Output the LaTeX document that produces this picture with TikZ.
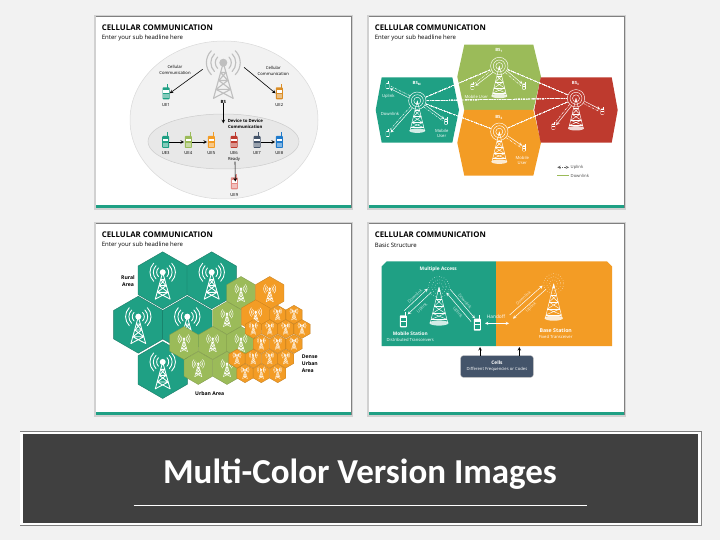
\documentclass[tikz,border=0pt]{standalone}
\usepackage{fontspec}
\setmainfont{Open Sans}
\newfontfamily\bannerfont{Carlito}
\usetikzlibrary{calc,positioning}
\definecolor{bgpage}{HTML}{F2F2F2}
\definecolor{tealc}{HTML}{1FA084}
\definecolor{greenc}{HTML}{9BBB59}
\definecolor{orangec}{HTML}{F39C25}
\definecolor{redc}{HTML}{BE3A2E}
\definecolor{slatec}{HTML}{44546A}
\definecolor{bluec}{HTML}{1F7ACB}
\definecolor{amberc}{HTML}{DB8E26}
\definecolor{pinkc}{HTML}{E58B85}
\definecolor{mastgray}{HTML}{BFBFBF}
\tikzset{
  lab/.style={font=\fontsize{4.2}{5.2}\selectfont,align=center,inner sep=0pt},
  labb/.style={lab,font=\fontsize{4.3}{5.3}\selectfont\bfseries},
  arealab/.style={lab,font=\fontsize{5.1}{7.3}\selectfont\bfseries},
  wlab/.style={lab,text=white},
  wlabb/.style={labb,text=white},
  fadelab/.style={lab,text=white,opacity=.75},
  link/.style={->,>=stealth,line width=0.6pt,black},
  downwire/.style={line width=0.5pt,white},
  upwire/.style={line width=0.45pt,white,dash pattern=on 2.2pt off 1pt on 0.6pt off 1pt},
  ringw/.style={line width=0.45pt,white},
  ringd/.style={line width=0.45pt,white,dotted},
  phone/.style={rectangle,rounded corners=0.8pt,inner sep=0pt,minimum width=7pt,minimum height=12pt,transform shape}
}
% slide frame: name, left, top, subtitle
\newcommand{\slideframe}[4]{
  \fill[black!18] (#2-2,#3-2) rectangle (#2+257,#3+193);
  \draw[black!50,line width=0.8pt] (#2-0.5,#3-0.5) -- (#2+255.5,#3-0.5) -- (#2+255.5,#3+191);
  \fill[white] (#2,#3) rectangle (#2+255,#3+191);
  \fill[tealc] (#2,#3+188) rectangle (#2+255,#3+191);
  \node[anchor=west,inner sep=0pt,font=\fontsize{7.8}{9}\selectfont\bfseries] (title#1) at (#2+5.7,#3+10.3) {CELLULAR COMMUNICATION};
  \node[anchor=west,inner sep=0pt,font=\fontsize{6}{7}\selectfont] (sub#1) at (#2+5.7,#3+21.3) {#4};
}
% lattice mast with side arcs: x, y, scale, colour, offset
\newcommand{\mast}[5]{
  \begin{scope}[shift={(#1,#2)},scale=#3,shift={(0,#5)},draw=#4,line width=#3*1.2pt+0.06pt,line cap=round]
    \foreach \rad in {9,14,19} {
      \draw (-45:\rad) arc (-45:45:\rad);
      \draw (135:\rad) arc (135:225:\rad);
    }
    \fill[#4] (0,0) circle (4.5);
    \draw (0,0) -- (-11,40) (0,0) -- (11,40);
    \draw (-3,11) -- (3,11) (-3,11) -- (5,20) (3,11) -- (-5,20) (-5,20) -- (5,20);
    \draw (-5,20) -- (8.2,30) (5,20) -- (-8.2,30) (-8.2,30) -- (8.2,30) (-8.2,30) -- (11,40) (8.2,30) -- (-11,40);
  \end{scope}
}
% base station with rings: name, x, y, scale, ring style
\newcommand{\station}[5]{
  \coordinate (#1) at (#2,#3);
  \begin{scope}[shift={(#2,#3)},scale=#4,draw=white,line width=0.45pt]
    \foreach \rad in {3.5,6,8.7} \draw[#5] (0,0) circle (\rad);
    \fill[white] (0,0) -- (-1,4) -- (1,4) -- cycle;
    \fill[white,opacity=.8] (0,30) ellipse (8 and 2.2);
    \draw (0,0) -- (-7.3,30) (0,0) -- (7.3,30);
    \foreach \hh/\ww in {10/2.4,16/3.9,22/5.4,27/6.6} \draw (-\ww,\hh) -- (\ww,\hh);
    \draw (-2.4,10) -- (3.9,16) (2.4,10) -- (-3.9,16) (-3.9,16) -- (5.4,22) (3.9,16) -- (-5.4,22) (-5.4,22) -- (6.6,27) (5.4,22) -- (-6.6,27);
  \end{scope}
}
% handset: name, x, y, scale, body, screen, keys
\newcommand{\handset}[7]{
  \begin{scope}[shift={(#2,#3)},scale=#4]
    \draw[#5,line width=#4*0.7pt] (1.8,-5) -- (1.8,-9.5);
    \node[phone,fill=#5] (#1) at (0,0) {};
    \fill[#6] (-2.6,-3.2) rectangle (2.6,-0.6);
    \fill[#7] (-2.6,0.6) rectangle (2.6,4.6);
  \end{scope}
}
% up and down wires between two points
\newcommand{\wirepair}[2]{
  \draw[downwire,shorten <=9pt,shorten >=3pt,->,>=stealth] ($(#1)!1.2pt!90:(#2)$) -- ($(#2)!1.2pt!-90:(#1)$);
  \draw[upwire,shorten <=9pt,shorten >=3pt] ($(#1)!1.2pt!-90:(#2)$) -- ($(#2)!1.2pt!90:(#1)$);
}
% pointy-top hexagon: x, y, radius, style
\newcommand{\hexcell}[4]{
  \filldraw[#4] ($(#1,#2)+(30:#3)$) -- ($(#1,#2)+(90:#3)$) -- ($(#1,#2)+(150:#3)$) -- ($(#1,#2)+(210:#3)$) -- ($(#1,#2)+(270:#3)$) -- ($(#1,#2)+(330:#3)$) -- cycle;
}
\begin{document}
\begin{tikzpicture}[x=1pt,y=-1pt]
\useasboundingbox (0,0) rectangle (720,540);
\fill[bgpage] (0,0) rectangle (720,540);

% Slide 1
\slideframe{a}{96}{17}{Enter your sub headline here}
\draw[black!15,fill=bgpage,line width=0.5pt] (224,120) ellipse (94 and 79);
\draw[black!20,fill=black!9,line width=0.5pt] (223.5,141.5) ellipse (75.5 and 27.5);
\coordinate (bs) at (223.3,62.7);
\mast{223.3}{62.7}{0.89}{mastgray}{0}
\node[labb] (bslab) at (223.3,101.7) {BS};
\handset{ue1}{166}{93.3}{1}{tealc}{white}{tealc!55}
\handset{ue2}{279.3}{93.3}{1}{amberc}{white}{amberc!55}
\handset{ue3}{165.7}{142}{1}{tealc}{white}{tealc!55}
\handset{ue4}{188.3}{142}{1}{greenc}{white}{greenc!55}
\handset{ue5}{211.3}{142}{1}{orangec}{white}{orangec!55}
\handset{ue6}{234}{142}{1}{redc}{white}{redc!55}
\handset{ue7}{257}{142}{1}{slatec}{white}{slatec!55}
\handset{ue8}{279.3}{142}{1}{bluec}{white}{bluec!55}
\handset{ue9}{234.3}{183.3}{1}{pinkc}{white}{pinkc!55}
\node[lab,below=3.5pt of ue1] (ue1lab) {UE1};
\node[lab,below=3.5pt of ue2] (ue2lab) {UE2};
\foreach \ue/\uetxt in {ue3/UE3,ue4/UE4,ue5/UE5,ue6/UE6,ue7/UE7,ue8/UE8,ue9/UE9}
  \node[lab,below=3.5pt of \ue] (\ue lab) {\uetxt};
\node[lab] (cella) at (175,70) {Cellular\\Communication};
\node[lab] (cellb) at (273.3,71) {Cellular\\Communication};
\node[labb] (d2d) at (245.3,124) {Device to Device\\Communication};
\node[lab] (ready) at (234,159.3) {Ready};
\draw[link] ([shift={(-20.6,6.6)}]bs) -- (ue1.east);
\draw[link] ([shift={(20.7,4.6)}]bs) -- (ue2.west);
\coordinate (d2dtip) at (223.3,123.3);
\draw[link] (bslab.south) -- (d2dtip);
\draw[link] (ue3) ++(3.6,0) -- ([xshift=-0.5pt]ue4.west);
\draw[link] (ue4) ++(3.6,0) -- ([xshift=-0.5pt]ue5.west);
\draw[link] (ue7) ++(3.6,0) -- ([xshift=-0.5pt]ue8.west);
\draw[link] ([xshift=1pt]ready.south) -- ([shift={(1pt,-4.5pt)}]ue9.north);

% Slide 2
\slideframe{b}{369}{17}{Enter your sub headline here}
\fill[greenc] (464.3,44.7) -- (533.3,44.7) -- (541,76.7) -- (533.3,110) -- (464.3,110) -- (457.3,76.7) -- cycle;
\fill[orangec] (464.3,110) -- (533.3,110) -- (541,142.7) -- (533.3,175.7) -- (464.3,175.7) -- (457.3,142.7) -- cycle;
\fill[tealc] (381.7,77.3) -- (452.3,77.3) -- (459,110) -- (452.3,142.7) -- (381.7,142.7) -- (375.7,110) -- cycle;
\fill[redc] (540.7,77.3) -- (611.7,77.3) -- (617.7,110) -- (611.7,142.7) -- (540.7,142.7) -- (534.3,110) -- cycle;
\station{bsm}{417.3}{100.7}{1}{ringw}
\station{bsa}{499.3}{66}{1}{ringw}
\station{bsb}{499.3}{131.7}{1}{ringw}
\station{bsc}{576}{98.3}{1}{ringw}
\handset{ma}{387.7}{86}{.5}{white}{tealc}{tealc}
\handset{mb}{387.7}{134}{.5}{white}{tealc}{tealc}
\handset{mc}{446}{121.7}{.5}{white}{tealc}{tealc}
\handset{md}{472.3}{86.7}{.5}{white}{greenc}{greenc}
\handset{me}{524}{86.7}{.5}{white}{greenc}{greenc}
\handset{mf}{524}{148.3}{.5}{white}{orangec}{orangec}
\handset{mg}{602.3}{111.7}{.5}{white}{redc}{redc}
\handset{mh}{553.3}{126.7}{.5}{white}{redc}{redc}
\foreach \bsname/\muser in {bsm/ma,bsm/mb,bsm/mc,bsa/md,bsa/me,bsb/mf,bsc/mg,bsc/mh}
  \wirepair{\bsname}{\muser}
\foreach \bsfrom/\bsto in {bsm/bsa,bsa/bsc,bsm/bsc,bsm/bsb,bsb/bsc}
  \draw[upwire,shorten <=9.5pt,shorten >=9.5pt] (\bsfrom) -- (\bsto);
\node[wlabb] (bsmlab) at (417,83.3) {BS\textsubscript{M}};
\node[wlabb] (bsalab) at (499,50) {BS\textsubscript{1}};
\node[wlabb] (bsblab) at (499,117.7) {BS\textsubscript{2}};
\node[wlabb] (bsclab) at (575.7,83.3) {BS\textsubscript{3}};
\node[wlab] (uplab) at (388.3,96) {Uplink};
\node[wlab] (downlab) at (390,114) {Downlink};
\node[wlab] (mobm) at (441.7,133.3) {Mobile\\User};
\node[wlab] (moba) at (476.3,96.7) {Mobile User};
\node[wlab] (mobb) at (522.3,160.7) {Mobile\\User};
\coordinate (lega) at (557.3,167.3);
\coordinate (legb) at (569,167.3);
\coordinate (legc) at (557.3,175.7);
\coordinate (legd) at (569,175.7);
\draw[<->,>=stealth,line width=0.5pt,black!60,dash pattern=on 2pt off 1pt on 0.6pt off 1pt] (lega) -- (legb);
\draw[greenc,line width=1.4pt] (legc) -- (legd);
\node[lab,text=black!70,right=1.5pt of legb] (leguplab) {Uplink};
\node[lab,text=black!70,right=1.5pt of legd] (legdownlab) {Downlink};

% Slide 3
\slideframe{c}{96}{224}{Enter your sub headline here}
\foreach \cx/\cy in {162.7/280.3,211.7/280.3,138.3/324.7,187.3/324.7,162.7/370} {
  \hexcell{\cx}{\cy}{28.5}{fill=tealc,draw=tealc!75!black,line width=0.35pt}
  \mast{\cx}{\cy}{.67}{white}{-12}
}
\foreach \cx/\cy in {241/293,227/318,184/343,212.7/343,241/343,198.3/368,227/368} {
  \hexcell{\cx}{\cy}{16.5}{fill=greenc,draw=greenc!80!black,line width=0.3pt}
  \mast{\cx}{\cy}{.32}{white}{-13}
}
\foreach \cx/\cy in {269.7/293,255.7/316.3} {
  \hexcell{\cx}{\cy}{16.5}{fill=orangec,draw=orangec!80!black,line width=0.3pt}
  \mast{\cx}{\cy}{.32}{white}{-13}
}
\foreach \cx/\cy in {277.7/314.7,294/314.7,253.3/329,269.7/329,285.7/329,302/329,261.3/344,277.7/344,294/344,237/358.7,253.3/358.7,269.7/358.7,285.7/358.7,245/373.3,261.3/373.3,277.7/373.3} {
  \hexcell{\cx}{\cy}{9.4}{fill=orangec,draw=orangec!80!black,line width=0.3pt}
  \mast{\cx}{\cy}{.22}{white!85!orangec}{-16}
}
\node[arealab] (rural) at (128,281) {Rural\\Area};
\node[arealab,align=left,anchor=west] (dense) at (301.7,363.7) {Dense\\Urban\\Area};
\node[arealab] (urban) at (209.7,393.7) {Urban Area};

% Slide 4
\slideframe{d}{369}{224}{Basic Structure}
\fill[tealc] (386.7,261.3) -- (496,261.3) -- (496,346) -- (381.7,346) -- (381.7,266.3) -- cycle;
\fill[orangec] (496,261.3) -- (607,261.3) -- (612,266.3) -- (612,346) -- (496,346) -- cycle;
\station{bsl}{439}{287}{1.2}{ringd}
\station{bsr}{553.7}{283.7}{1.15}{ringd}
\handset{msl}{403.3}{321.3}{1}{white}{tealc}{tealc}
\handset{msr}{477.3}{324.7}{1}{white}{tealc}{tealc}
\foreach \fa/\fb/\ax/\ay/\bx/\by in {p/q/429.5/290.5/406/312.5,r/s/448.3/291/473/320,t/u/544.2/287.5/511.3/316.8} {
  \coordinate (\fa) at (\ax,\ay);
  \coordinate (\fb) at (\bx,\by);
  \draw[downwire,->,>=stealth] ($(\fa)!2.5pt!90:(\fb)$) -- ($(\fb)!2.5pt!-90:(\fa)$);
  \draw[downwire,<-,>=stealth] ($(\fa)!2.5pt!-90:(\fb)$) -- ($(\fb)!2.5pt!90:(\fa)$);
}
\node[fadelab,rotate=43] (dla) at (415,296.3) {Downlink};
\node[fadelab,rotate=43] (ula) at (422.3,308) {Uplink};
\node[fadelab,rotate=-50] (dlb) at (465,301.3) {Downlink};
\node[fadelab,rotate=-50] (ulb) at (457.7,312.3) {Uplink};
\node[fadelab,rotate=42] (dlc) at (523.3,298) {Downlink};
\node[fadelab,rotate=42] (ulc) at (531,307.3) {Uplink};
\coordinate (hoa) at (485,323.3);
\coordinate (hob) at (509,323.3);
\draw[downwire,<->,>=stealth] (hoa) -- (hob);
\node[wlab,font=\fontsize{4.8}{6}\selectfont] (hand) at (496,317) {Handoff};
\node[wlabb,font=\fontsize{4.8}{6}\selectfont\bfseries] (mult) at (438.3,269) {Multiple Access};
\node[wlabb,font=\fontsize{4.8}{6}\selectfont\bfseries] (mob) at (410.3,334) {Mobile Station};
\node[wlab] (dist) at (410.3,340.3) {Distributed Transceivers};
\node[wlabb,font=\fontsize{5.2}{6}\selectfont\bfseries] (base) at (555.7,330.3) {Base Station};
\node[wlab] (fixed) at (555.7,337.3) {Fixed Transceiver};
\node[rectangle,rounded corners=2.5pt,fill=slatec,draw=black!25,line width=0.4pt,minimum width=72.6pt,minimum height=21.6pt,inner sep=0pt,text=white,align=center,font=\fontsize{4.2}{6}\selectfont] (cells) at (497,366.5) {{\bfseries\fontsize{4.8}{6}\selectfont Cells}\\Different Frequencies or Codes};
\coordinate (cellup) at (480,347);
\coordinate (celluq) at (519.3,347);
\draw[link] (cellup |- cells.north) -- (cellup);
\draw[link] (celluq |- cells.north) -- (celluq);

% Banner
\fill[black!50] (19.5,431) rectangle (701.5,526);
\fill[white] (20.3,431.8) rectangle (700.7,525.2);
\fill[black!75] (23,434) rectangle (698,522.7);
\node[inner sep=0pt,text=white,font=\bannerfont\fontsize{35}{40}\selectfont\bfseries] (banner) at (360,474) {Multi-Color Version Images};
\coordinate (rulea) at (133.6,505.3);
\coordinate (ruleb) at (587,505.3);
\draw[white,line width=0.7pt] (rulea) -- (ruleb);
\end{tikzpicture}
\end{document}
